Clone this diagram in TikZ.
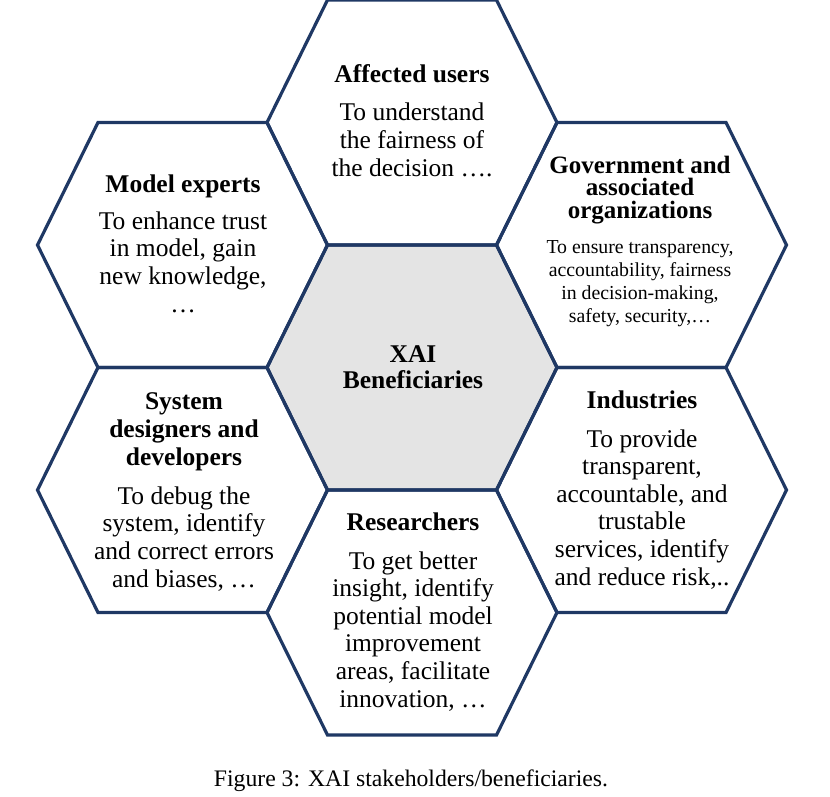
\documentclass[tikz,border=0pt]{standalone}
\usepackage{fontspec}
\setmainfont{Liberation Serif}
\definecolor{hexline}{RGB}{31,56,100}
\definecolor{hexcore}{RGB}{228,228,228}
\tikzset{
  hexcell/.pic={
    \path[pic actions] (-145,0) -- (-84.5,-122.5) -- (84.5,-122.5) -- (145,0)
      -- (84.5,122.5) -- (-84.5,122.5) -- cycle;
  },
  hexa/.style={draw=hexline, line width=3.2pt, line join=miter},
  % texts are placed by the baseline of their last line
  head/.style={anchor=base, align=center, inner sep=0pt,
    font=\fontsize{25.5}{27.6}\selectfont\bfseries},
  body/.style={anchor=base, align=center, inner sep=0pt,
    font=\fontsize{25.5}{27.6}\selectfont},
}
\begin{document}
\begin{tikzpicture}[x=1pt, y=-1pt]
\useasboundingbox (0,0) rectangle (830,796);

% honeycomb: grey core first, then every outline
\pic[fill=hexcore] at (412,367.5) {hexcell};
\pic[hexa] at (412,122.5) {hexcell};
\pic[hexa] at (182.5,245) {hexcell};
\pic[hexa] at (641.5,245) {hexcell};
\pic[hexa] at (182.5,490) {hexcell};
\pic[hexa] at (641.5,490) {hexcell};
\pic[hexa] at (412,612.5) {hexcell};
\pic[hexa] at (412,367.5) {hexcell};

% core
\node[head, font=\fontsize{25.5}{26}\selectfont\bfseries] (core) at (413,388)
  {XAI\\Beneficiaries};

% affected users
\node[head] (usersT) at (412,82) {Affected users};
\node[body] (usersB) at (412,176) {To understand\\the fairness of\\the decision ….};

% model experts
\node[head] (expertsT) at (183,192) {Model experts};
\node[body] (expertsB) at (183,312)
  {To enhance trust\\in model, gain\\new knowledge,\\…};

% government
\node[head, font=\fontsize{25}{22.2}\selectfont\bfseries] (govT) at (640,218)
  {Government and\\associated\\organizations};
\node[body, font=\fontsize{19.8}{22.7}\selectfont] (govB) at (640,322)
  {To ensure transparency,\\accountability, fairness\\in decision-making,\\safety, security,…};

% system designers
\node[head] (sysT) at (184,465) {System\\designers and\\developers};
\node[body] (sysB) at (184,587)
  {To debug the\\system, identify\\and correct errors\\and biases, …};

% industries
\node[head] (indT) at (642,408) {Industries};
\node[body] (indB) at (642,585)
  {To provide\\transparent,\\accountable, and\\trustable\\services, identify\\and reduce risk,..};

% researchers
\node[head] (resT) at (413,530) {Researchers};
\node[body] (resB) at (413,707)
  {To get better\\insight, identify\\potential model\\improvement\\areas, facilitate\\innovation, …};

% caption
\node[anchor=base, inner sep=0pt, font=\fontsize{23.7}{26}\selectfont] (caption)
  at (411,786) {Figure 3: XAI stakeholders/beneficiaries.};
\end{tikzpicture}
\end{document}
